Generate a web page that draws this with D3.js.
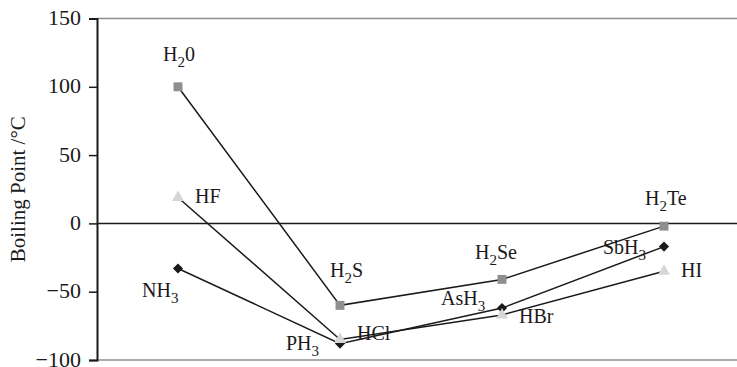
<!DOCTYPE html>
<html>
<head>
<meta charset="utf-8">
<script src="https://cdn.jsdelivr.net/npm/d3@7/dist/d3.min.js"></script>
<style>
  html, body { margin: 0; padding: 0; background: #fff; }
  svg { display: block; }
  text { font-family: "Liberation Serif", "Times New Roman", serif; fill: #1a1a1a; }
</style>
</head>
<body>
<svg id="chart" width="737" height="367"></svg>
<script>
// Periods 2-5, one column per period
const periods = ["2", "3", "4", "5"];
const yTicks = [150, 100, 50, 0, -50, -100];

// Boiling points (°C) of the hydrides of groups 15, 16 and 17
const group15Names = [["NH", "3"], ["PH", "3"], ["AsH", "3"], ["SbH", "3"]];
const group15Values = [-33, -88, -62, -17];

const group16Names = [["H", "2", "0"], ["H", "2", "S"], ["H", "2", "Se"], ["H", "2", "Te"]];
const group16Values = [100, -60, -41, -2];

const group17Names = [["HF"], ["HCl"], ["HBr"], ["HI"]];
const group17Values = [19, -85, -67, -35];

// Label placement offsets (px) relative to each point
const group15Offsets = [[-36, 29], [-54, 6], [-61, -3], [-61, 7]];
const group16Offsets = [[-15, -26], [-10, -28], [-27, -20], [-19, -21]];
const group17Offsets = [[17, 6], [17, 0], [17, 8], [17, 6]];

const svg = d3.select("#chart");
const plotLeft = 97, plotRight = 745, plotTop = 18.5, plotBottom = 360;

const x = d3.scaleBand().domain(periods).range([plotLeft, plotRight]).padding(0);
const y = d3.scaleLinear().domain([-100, 150]).range([plotBottom, plotTop]);
const cx = p => x(p) + x.bandwidth() / 2;

// frame: grey top and bottom rules, black zero line
svg.append("line").attr("x1", plotLeft).attr("x2", 737).attr("y1", y(150)).attr("y2", y(150))
  .attr("stroke", "#8f8f8f").attr("stroke-width", 1.5);
svg.append("line").attr("x1", plotLeft).attr("x2", 737).attr("y1", y(-100)).attr("y2", y(-100))
  .attr("stroke", "#8f8f8f").attr("stroke-width", 1.5);
svg.append("line").attr("x1", plotLeft).attr("x2", 737).attr("y1", y(0)).attr("y2", y(0))
  .attr("stroke", "#1a1a1a").attr("stroke-width", 1.5);

// y axis
const yAxis = svg.append("g").attr("transform", `translate(${plotLeft},0)`)
  .call(d3.axisLeft(y).tickValues(yTicks).tickSize(8).tickPadding(8)
    .tickFormat(d => d < 0 ? "\u2212" + Math.abs(d) : d));
yAxis.select(".domain").attr("stroke", "#1a1a1a").attr("stroke-width", 2);
yAxis.selectAll(".tick line").attr("stroke", "#1a1a1a").attr("stroke-width", 1.5);
yAxis.selectAll(".tick text").style("font-size", "22px").attr("dy", "0.28em")
  .style("font-family", "'Liberation Serif', serif").attr("fill", "#1a1a1a");

svg.append("text")
  .attr("transform", `translate(25,${(plotTop + plotBottom) / 2}) rotate(-90)`)
  .attr("text-anchor", "middle")
  .style("font-size", "21px")
  .text("Boiling Point /°C");

// diamonds are drawn as squares turned 45°
const series = [
  { values: group15Values, names: group15Names, offsets: group15Offsets, shape: d3.symbolSquare, size: 52, rotate: 45, fill: "#1a1a1a" },
  { values: group17Values, names: group17Names, offsets: group17Offsets, shape: d3.symbolTriangle, size: 62, rotate: 0, fill: "#d6d6d6" },
  { values: group16Values, names: group16Names, offsets: group16Offsets, shape: d3.symbolSquare, size: 80, rotate: 0, fill: "#8f8f8f" }
];

const line = d3.line().x((d, i) => cx(periods[i])).y(d => y(d));

series.forEach(s => {
  svg.append("path").datum(s.values).attr("d", line)
    .attr("fill", "none").attr("stroke", "#1a1a1a").attr("stroke-width", 1.5);
});

series.forEach(s => {
  svg.append("g").selectAll("path").data(s.values).join("path")
    .attr("transform", (d, i) => `translate(${cx(periods[i])},${y(d)}) rotate(${s.rotate})`)
    .attr("d", d3.symbol().type(s.shape).size(s.size))
    .attr("fill", s.fill);
});

series.forEach(s => {
  const g = svg.append("g");
  s.values.forEach((v, i) => {
    const [dx, dy] = s.offsets[i];
    const t = g.append("text")
      .attr("x", cx(periods[i]) + dx)
      .attr("y", y(v) + dy)
      .style("font-size", "20px");
    const parts = s.names[i];
    t.append("tspan").text(parts[0]);
    if (parts.length > 1) {
      t.append("tspan").attr("dy", 6).style("font-size", "15px").text(parts[1]);
    }
    if (parts.length > 2) {
      t.append("tspan").attr("dy", -6).text(parts[2]);
    }
  });
});
</script>
</body>
</html>
